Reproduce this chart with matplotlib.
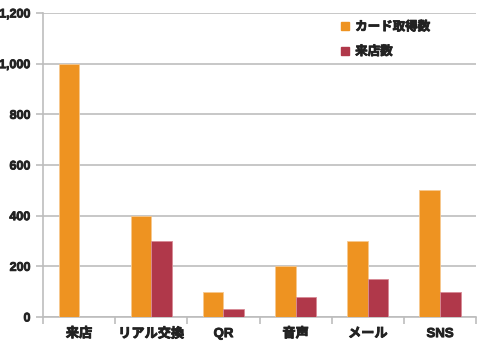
import numpy as np
import matplotlib.pyplot as plt
import matplotlib.patheffects as pe
from matplotlib.patches import Patch

plt.rcParams['font.family'] = ['Liberation Sans', 'Noto Sans CJK JP', 'DejaVu Sans']
plt.rcParams['font.weight'] = 'bold'

# data
categories = ['来店', 'リアル交換', 'QR', '音声', 'メール', 'SNS']
cards = [1000, 400, 100, 200, 300, 500]
visits = [0, 300, 30, 80, 150, 100]
series_names = ['カード取得数', '来店数']

orange = '#EE9321'
red = '#B0384A'
grid_c = '#BDBDBD'
bold = [pe.withStroke(linewidth=0.6, foreground='#222222')]

fig = plt.figure(figsize=(4.8, 3.45), dpi=100)
ax = fig.add_axes([0.0896, 0.0812, 0.9024, 0.8811])

x = np.arange(len(categories))
w = 0.285
ax.bar(x - w / 2, cards, w, color=orange, edgecolor='#F6C890', linewidth=0.6, zorder=3)
ax.bar(x + w / 2, visits, w, color=red, edgecolor='#D88A95', linewidth=0.6, zorder=3)

ax.set_xlim(-0.5, len(categories) - 0.5)
ax.set_ylim(0, 1200)
ax.set_yticks(np.arange(0, 1201, 200))
ax.set_yticklabels(['{:,}'.format(v) for v in range(0, 1201, 200)])
ax.yaxis.grid(True, color=grid_c, linewidth=1.2, zorder=0)

ax.set_xticks(x)
ax.set_xticklabels(categories)
ax.set_xticks(np.arange(-0.5, len(categories)), minor=True)
ax.tick_params(axis='x', which='major', length=0, pad=8, labelsize=9.5, labelcolor='#222222')
ax.tick_params(axis='x', which='minor', length=5, color=grid_c, width=1.2)
ax.tick_params(axis='y', length=5, color=grid_c, width=1.2, pad=4, labelsize=9, labelcolor='#222222')
for t in ax.get_xticklabels() + ax.get_yticklabels():
    t.set_path_effects(bold)

for s in ['top', 'right']:
    ax.spines[s].set_visible(False)
for s in ['left', 'bottom']:
    ax.spines[s].set_color(grid_c)
    ax.spines[s].set_linewidth(1.2)

handles = [Patch(color=orange), Patch(color=red)]
leg = ax.legend(handles, series_names, loc='upper left', bbox_to_anchor=(0.663, 1.01),
                frameon=False, handlelength=0.6, handleheight=0.6, handletextpad=0.5,
                labelspacing=1.0, prop={'weight': 'bold', 'size': 9})
for t in leg.get_texts():
    t.set_color('#222222')
    t.set_path_effects(bold)

fig.savefig('out.png')
